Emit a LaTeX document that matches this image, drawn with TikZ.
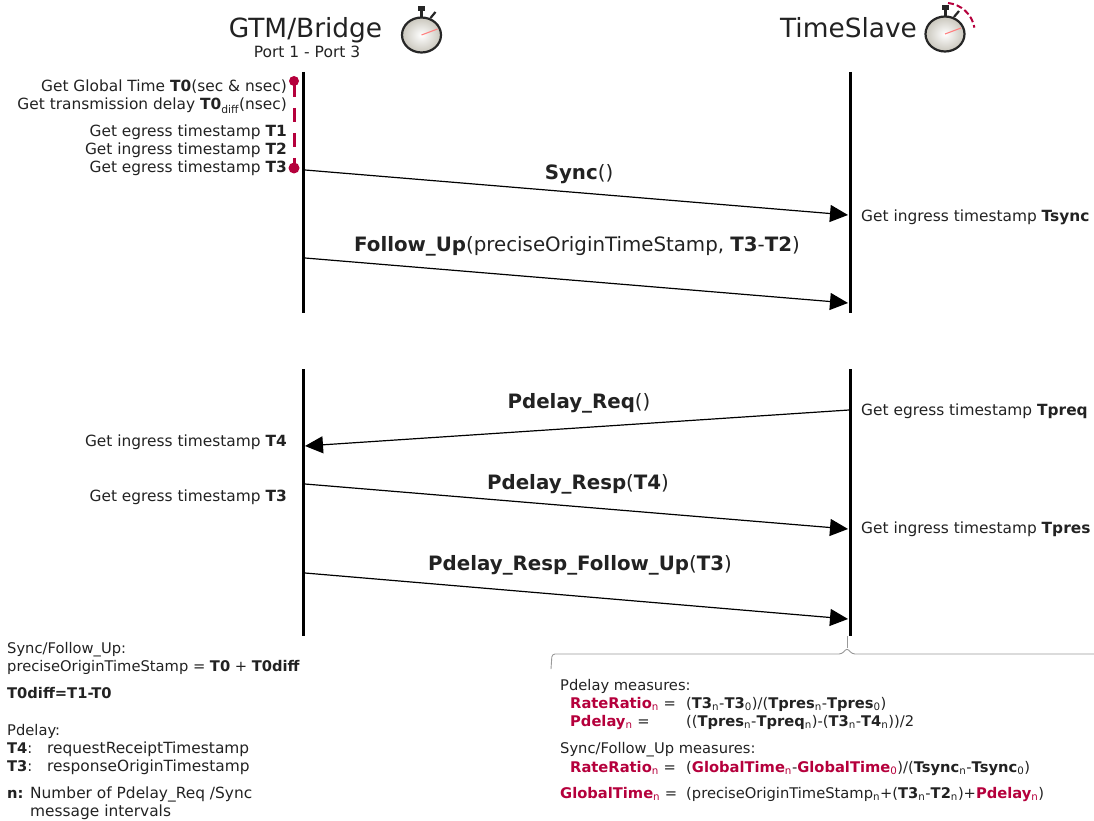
\documentclass[tikz,border=0pt]{standalone}
\usepackage{fontspec}
\setmainfont{DejaVu Sans}
\usetikzlibrary{arrows.meta}
\definecolor{ptpred}{HTML}{B5003C}
\definecolor{ptptext}{HTML}{222222}
\definecolor{ptpface}{HTML}{C9C6BC}
\newcommand{\bs}[2]{\textbf{#1}\textsubscript{#2}}
\newcommand{\rs}[2]{\textcolor{ptpred}{\textbf{#1}\textsubscript{#2}}}
\newcommand{\watch}[2]{%
	\fill[black!85] (#1-3.5,#2-28) rectangle (#1+3.5,#2-23);
	\fill[black!85] (#1-1.5,#2-24) rectangle (#1+1.5,#2-17);
	\draw[line width=2.2pt,black!85] (#1+9,#2-16) -- (#1+14,#2-22);
	\shade[inner color=white,outer color=ptpface,draw=black!85,line width=2.2pt] (#1,#2+1) ellipse [x radius=19.5,y radius=17.5];
	\draw[line width=1.1pt,red!50!white] (#1,#2+1) -- (#1+16,#2-5);
}
\tikzset{
	lifeline/.style={line width=3pt,black},
	msg/.style={line width=1.2pt,-{Triangle[length=18pt,width=17pt]}},
	title/.style={font=\fontsize{26.4}{30}\selectfont,text=ptptext,inner sep=0,anchor=base},
	msglabel/.style={font=\fontsize{19.8}{24}\selectfont,text=ptptext,inner sep=0,anchor=base},
	note/.style={font=\fontsize{15.4}{18}\selectfont,text=ptptext,inner sep=0,anchor=base east},
	calc/.style={font=\fontsize{15.4}{18}\selectfont,text=ptptext,inner sep=0,anchor=base west},
	legend/.style={font=\fontsize{14.7}{18}\selectfont,text=ptptext,inner sep=0,anchor=base west},
	legendw/.style={font=\fontsize{15.4}{18}\selectfont,text=ptptext,inner sep=0,anchor=base west},
}
\begin{document}
\begin{tikzpicture}[x=1pt,y=-1pt]
	\useasboundingbox (0,0) rectangle (1094,821);
	% headers
	\node[title] (gtm) at (305.5,38) {GTM/Bridge};
	\node[legend,anchor=base,font=\fontsize{15.5}{18}\selectfont] (port) at (307,58) {Port 1 - Port 3};
	\node[title] (slave) at (848.5,38) {TimeSlave};
	\watch{421.5}{34}
	\watch{945}{33}
	\draw[ptpred,line width=2pt,dash pattern=on 6pt off 3pt] (948,3) arc (-84:-10:30);
	% lifelines
	\coordinate (a1) at (303,72);
	\coordinate (a2) at (303,313);
	\coordinate (b1) at (850,72);
	\coordinate (b2) at (850,313);
	\coordinate (c1) at (303,369);
	\coordinate (c2) at (303,636);
	\coordinate (d1) at (850,369);
	\coordinate (d2) at (850,636);
	\draw[lifeline] (a1) -- (a2);
	\draw[lifeline] (b1) -- (b2);
	\draw[lifeline] (c1) -- (c2);
	\draw[lifeline] (d1) -- (d2);
	% messages
	\coordinate (s1) at (305,170);
	\coordinate (s2) at (848,215);
	\coordinate (f1) at (305,258);
	\coordinate (f2) at (848,303);
	\coordinate (r1) at (849,410);
	\coordinate (r2) at (305,446);
	\coordinate (p1) at (305,484);
	\coordinate (p2) at (848,529);
	\coordinate (u1) at (305,573);
	\coordinate (u2) at (848,619);
	\draw[msg] (s1) -- (s2);
	\draw[msg] (f1) -- (f2);
	\draw[msg] (r1) -- (r2);
	\draw[msg] (p1) -- (p2);
	\draw[msg] (u1) -- (u2);
	\node[msglabel] (sync) at (579,179) {\textbf{Sync}()};
	\node[msglabel] (fup) at (577,251) {\textbf{Follow\_Up}(preciseOriginTimeStamp, \textbf{T3}-\textbf{T2})};
	\node[msglabel] (req) at (579,408) {\textbf{Pdelay\_Req}()};
	\node[msglabel] (resp) at (578,489) {\textbf{Pdelay\_Resp}(\textbf{T4})};
	\node[msglabel] (rfup) at (580,570) {\textbf{Pdelay\_Resp\_Follow\_Up}(\textbf{T3})};
	% red marker
	\coordinate (m1) at (294,81);
	\coordinate (m2) at (294,168);
	\draw[ptpred,line width=3pt,dash pattern=on 16pt off 11pt on 14pt off 11pt on 14pt off 11pt on 20pt] (m1) -- (m2);
	\fill[ptpred] (m1) circle (5);
	\fill[ptpred] (m2) circle (5.5);
	% left notes
	\node[note] (t0) at (287,92) {Get Global Time \textbf{T0}(sec \& nsec)};
	\node[note] (t0d) at (287,110) {Get transmission delay \bs{T0}{diff}(nsec)};
	\node[note] (t1) at (287,137) {Get egress timestamp \textbf{T1}};
	\node[note] (t2) at (287,155) {Get ingress timestamp \textbf{T2}};
	\node[note] (t3) at (287,173) {Get egress timestamp \textbf{T3}};
	\node[note] (t4) at (287,446) {Get ingress timestamp \textbf{T4}};
	\node[note] (t3b) at (287,501) {Get egress timestamp \textbf{T3}};
	% right notes
	\node[calc] (tsync) at (861,222) {Get ingress timestamp \textbf{Tsync}};
	\node[calc] (tpreq) at (861,415) {Get egress timestamp \textbf{Tpreq}};
	\node[calc] (tpres) at (861,533) {Get ingress timestamp \textbf{Tpres}};
	% brace
	\coordinate (b0) at (847,636);
	\coordinate (b3) at (847,648);
	\draw[black!40,line width=0.9pt,rounded corners=3pt] (551,669) -- (552,654) -- (842,654) -- (b3) -- (852,654) -- (1094,654);
	\draw[black!40,line width=0.9pt] (b0) -- (b3);
	% legend left
	\node[legend] (l1) at (7,653) {Sync/Follow\_Up:};
	\node[legend] (l2) at (7,671) {preciseOriginTimeStamp = \textbf{T0} + \textbf{T0diff}};
	\node[legend] (l3) at (7,698) {\textbf{T0diff=T1-T0}};
	\node[legend] (l4) at (7,735) {Pdelay:};
	\node[legend] (l5) at (7,753) {\textbf{T4}:};
	\node[legendw] (l5b) at (47,753) {requestReceiptTimestamp};
	\node[legend] (l6) at (7,771) {\textbf{T3}:};
	\node[legendw] (l6b) at (47,771) {responseOriginTimestamp};
	\node[legend] (l7) at (7,798) {\textbf{n:}};
	\node[legendw] (l7b) at (30,798) {Number of Pdelay\_Req /Sync};
	\node[legendw] (l8) at (30,816) {message intervals};
	% legend right
	\node[legend] (m1t) at (560,690) {Pdelay measures:};
	\node[legend] (m2t) at (570,708) {\rs{RateRatio}{n} =};
	\node[legend] (m2f) at (686,708) {(\bs{T3}{n}-\bs{T3}{0})/(\bs{Tpres}{n}-\bs{Tpres}{0})};
	\node[legend] (m3t) at (570,726) {\rs{Pdelay}{n} =};
	\node[legend] (m3f) at (686,726) {((\bs{Tpres}{n}-\bs{Tpreq}{n})-(\bs{T3}{n}-\bs{T4}{n}))/2};
	\node[legend] (m4t) at (560,753) {Sync/Follow\_Up measures:};
	\node[legend] (m5t) at (570,772) {\rs{RateRatio}{n} =};
	\node[legend] (m5f) at (686,772) {(\rs{GlobalTime}{n}-\rs{GlobalTime}{0})/(\bs{Tsync}{n}-\bs{Tsync}{0})};
	\node[legend] (m6t) at (560,798) {\rs{GlobalTime}{n} =};
	\node[legend] (m6f) at (686,798) {(preciseOriginTimeStamp\textsubscript{n}+(\bs{T3}{n}-\bs{T2}{n})+\rs{Pdelay}{n})};
\end{tikzpicture}
\end{document}
